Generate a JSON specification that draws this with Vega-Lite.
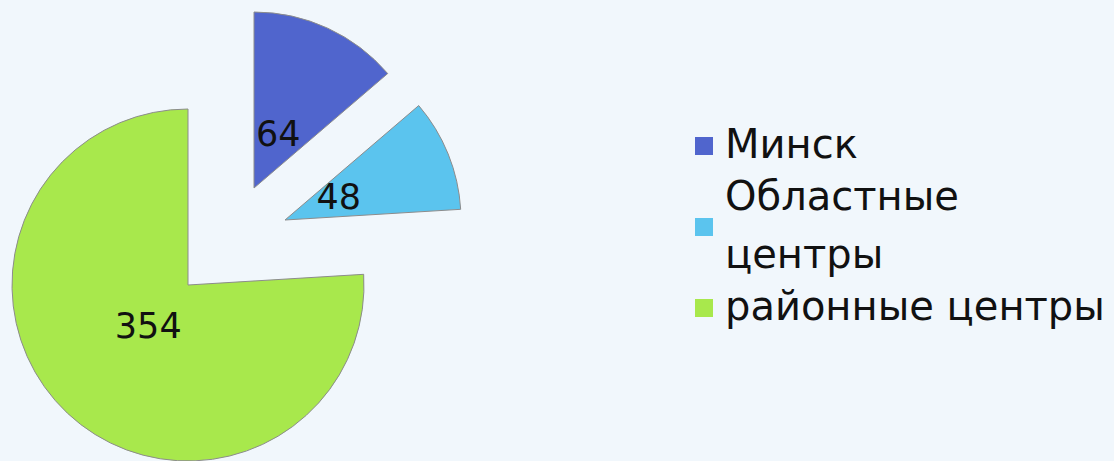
{
  "$schema": "https://vega.github.io/schema/vega-lite/v6.json",
  "width": 376,
  "height": 461,
  "autosize": {"type": "none"},
  "padding": {"left": 0, "top": 0, "right": 738, "bottom": 0},
  "background": "#f1f7fc",
  "view": {"stroke": null},
  "config": {
    "style": {
      "guide-label": {
        "lineHeight": 58,
        "dy": {"expr": "datum.value === 'Областные центры' ? -29 : 0"}
      }
    }
  },
  "data": {
    "values": [
      {"category": "Минск", "value": 64},
      {"category": "Областные центры", "value": 48},
      {"category": "районные центры", "value": 354}
    ]
  },
  "encoding": {
    "theta": {"field": "value", "type": "quantitative", "stack": true},
    "order": {"field": "category", "type": "nominal", "sort": "ascending"}
  },
  "layer": [
    {
      "mark": {
        "type": "arc",
        "outerRadius": 176,
        "stroke": "#8c8c8c",
        "strokeWidth": 1,
        "xOffset": {"expr": "datum.category === 'Минск' ? 66 : datum.category === 'Областные центры' ? 97 : 0"},
        "yOffset": {"expr": "datum.category === 'Минск' ? -42.5 : datum.category === 'Областные центры' ? -10.5 : 54.5"}
      },
      "encoding": {
        "color": {
          "field": "category",
          "type": "nominal",
          "sort": ["Минск", "Областные центры", "районные центры"],
          "scale": {
            "domain": ["Минск", "Областные центры", "районные центры"],
            "range": ["#5065cd", "#5bc4ee", "#a8e84c"]
          },
          "legend": {
            "orient": "none",
            "legendX": 684,
            "legendY": 126,
            "title": null,
            "padding": 0,
            "symbolType": "square",
            "symbolSize": 324,
            "symbolStrokeWidth": 0,
            "labelFont": "DejaVu Sans",
            "labelFontSize": 40,
            "labelColor": "#111111",
            "labelLimit": 0,
            "labelOffset": 1,
            "rowPadding": 12,
            "labelExpr": "datum.label == 'Областные центры' ? ['Областные', 'центры'] : datum.label"
          }
        }
      }
    },
    {
      "mark": {
        "type": "text",
        "radius": 58,
        "font": "DejaVu Sans",
        "fontSize": 35,
        "fill": "#111111",
        "xOffset": {"expr": "datum.category === 'Минск' ? 66 : datum.category === 'Областные центры' ? 97 : 0"},
        "yOffset": {"expr": "datum.category === 'Минск' ? -42.5 : datum.category === 'Областные центры' ? -10.5 : 54.5"}
      },
      "encoding": {
        "detail": {"field": "category", "type": "nominal"},
        "text": {"field": "value", "type": "quantitative"}
      }
    }
  ]
}
